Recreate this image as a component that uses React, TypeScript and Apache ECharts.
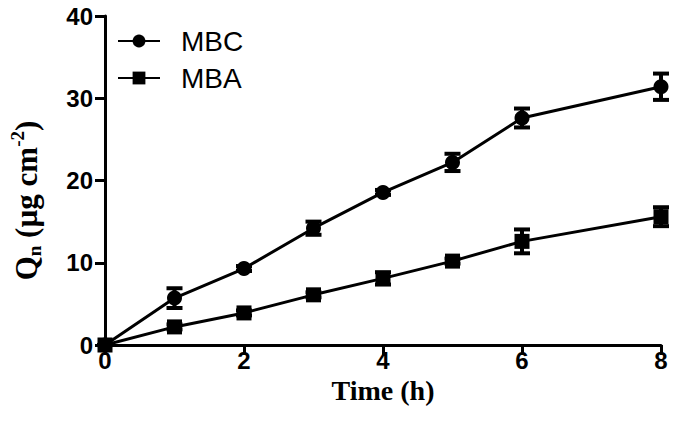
import React, { useEffect, useRef } from "react";
import * as echarts from "echarts";

const timeH = [0, 1, 2, 3, 4, 5, 6, 8];
const mbcMean = [0, 5.7, 9.3, 14.2, 18.55, 22.2, 27.6, 31.4];
const mbcErr = [0, 1.2, 0.3, 0.8, 0.3, 1.05, 1.15, 1.6];
const mbaMean = [0, 2.2, 3.9, 6.1, 8.1, 10.2, 12.6, 15.6];
const mbaErr = [0, 0.3, 0.3, 0.3, 0.75, 0.3, 1.45, 1.15];
const seriesNames = ["MBC", "MBA"];
const xTicks = { min: 0, max: 8, interval: 2 };
const yTicks = { min: 0, max: 40, interval: 10 };

function errorSeries(name: string, mean: number[], err: number[]) {
  const data = timeH.map((t, i) => [t, mean[i] - err[i], mean[i] + err[i]]);
  return {
    type: "custom",
    name: name + " error",
    data,
    clip: false,
    z: 3,
    renderItem: (params: any, api: any) => {
      const x = api.value(0);
      const lo = api.coord([x, api.value(1)]);
      const hi = api.coord([x, api.value(2)]);
      const half = 8;
      const style = { stroke: "#000", lineWidth: 4, fill: "none" };
      return {
        type: "group",
        children: [
          { type: "line", shape: { x1: lo[0], y1: lo[1], x2: hi[0], y2: hi[1] }, style },
          { type: "line", shape: { x1: lo[0] - half, y1: lo[1], x2: lo[0] + half, y2: lo[1] }, style },
          { type: "line", shape: { x1: hi[0] - half, y1: hi[1], x2: hi[0] + half, y2: hi[1] }, style },
        ],
      };
    },
    silent: true,
  };
}

export default function App() {
  const ref = useRef<HTMLDivElement>(null);
  useEffect(() => {
    if (!ref.current) return;
    const chart = echarts.init(ref.current, null, { renderer: "svg" });
    const tickFont = {
      color: "#000",
      fontFamily: "Liberation Sans",
      fontWeight: "bold" as const,
      fontSize: 24,
      lineHeight: 22,
    };
    const titleFont = {
      fontFamily: "Liberation Serif",
      fontWeight: "bold" as const,
      color: "#000",
    };
    chart.setOption({
      animation: false,
      backgroundColor: "#fff",
      grid: { left: 104, right: 19, top: 16, bottom: 78 },
      legend: {
        left: 112,
        top: 22,
        orient: "vertical",
        data: seriesNames,
        itemWidth: 42,
        itemHeight: 16,
        itemGap: 9,
        textStyle: {
          fontFamily: "Liberation Sans",
          fontSize: 28,
          color: "#000",
          lineHeight: 28,
          padding: [0, 0, 0, 16],
        },
      },
      xAxis: {
        type: "value",
        min: xTicks.min,
        max: xTicks.max,
        interval: xTicks.interval,
        name: "Time (h)",
        nameLocation: "middle",
        nameGap: 31,
        nameMoveOverlap: false,
        nameTextStyle: { ...titleFont, fontSize: 28, lineHeight: 28 },
        splitLine: { show: false },
        axisLine: { show: true, onZero: false, lineStyle: { color: "#000", width: 3 } },
        axisTick: { show: true, length: 10, lineStyle: { color: "#000", width: 3 } },
        axisLabel: { ...tickFont, margin: 4 },
      },
      yAxis: {
        type: "value",
        min: yTicks.min,
        max: yTicks.max,
        interval: yTicks.interval,
        name: "Q{sub|n} (µg cm{sup|-2})",
        nameLocation: "middle",
        nameRotate: 90,
        nameGap: 61,
        nameMoveOverlap: false,
        nameTextStyle: {
          ...titleFont,
          fontSize: 31,
          lineHeight: 36,
          padding: [0, 40, 0, 0],
          rich: {
            sub: { ...titleFont, fontSize: 19, lineHeight: 19, verticalAlign: "bottom" },
            sup: { ...titleFont, fontSize: 19, lineHeight: 19, verticalAlign: "top" },
          },
        },
        splitLine: { show: false },
        axisLine: { show: true, lineStyle: { color: "#000", width: 3 } },
        axisTick: { show: true, length: 10, lineStyle: { color: "#000", width: 3 } },
        axisLabel: { ...tickFont, margin: 12 },
      },
      series: [
        {
          type: "line",
          name: seriesNames[0],
          data: timeH.map((t, i) => [t, mbcMean[i]]),
          symbol: "circle",
          symbolSize: 15,
          clip: false,
          z: 4,
          lineStyle: { color: "#000", width: 3 },
          itemStyle: { color: "#000" },
        },
        {
          type: "line",
          name: seriesNames[1],
          data: timeH.map((t, i) => [t, mbaMean[i]]),
          symbol: "rect",
          symbolSize: 15,
          clip: false,
          z: 4,
          lineStyle: { color: "#000", width: 3 },
          itemStyle: { color: "#000" },
        },
        errorSeries(seriesNames[0], mbcMean, mbcErr),
        errorSeries(seriesNames[1], mbaMean, mbaErr),
      ],
    });
    return () => chart.dispose();
  }, []);
  return (
    <div
      ref={ref}
      style={{ position: "absolute", left: 0, top: 0, width: 680, height: 423 }}
    />
  );
}
